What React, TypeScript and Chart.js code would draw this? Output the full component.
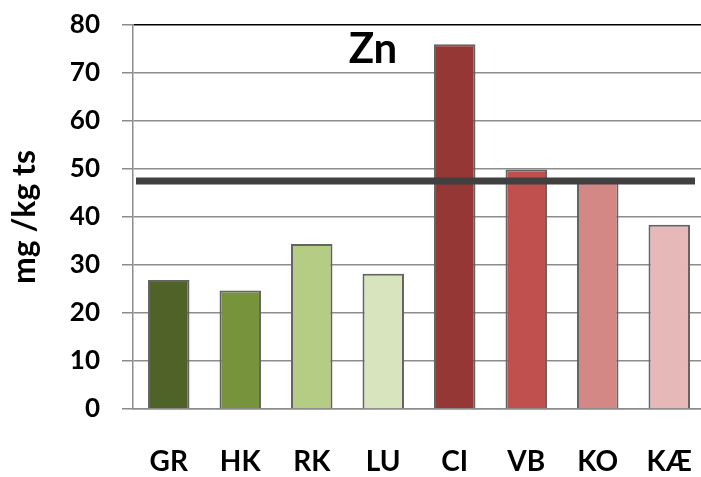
import React, { useEffect, useRef } from "react";
import { Chart, registerables } from "chart.js";

Chart.register(...registerables);

const categories = ["GR", "HK", "RK", "LU", "CI", "VB", "KO", "KÆ"];
const values = [26.9, 24.7, 34.4, 28.2, 76.0, 49.9, 47.6, 38.4];
const barColors = ["#4F6228", "#77933C", "#B4CC84", "#D7E4BD", "#953735", "#C0504D", "#D48886", "#E6B9B8"];
const threshold = 47.5;
const titleText = "Zn";
const yTitle = "mg /kg ts";
const yMin = 0;
const yMax = 80;
const yStep = 10;

const FONT = "Lato, 'Open Sans', sans-serif";

const overlayPlugin = {
  id: "overlay",
  afterDatasetsDraw(chart: any) {
    const { ctx, chartArea, scales } = chart;
    const y = scales.y.getPixelForValue(threshold);
    ctx.save();
    ctx.strokeStyle = "#404040";
    ctx.lineWidth = 7;
    ctx.beginPath();
    ctx.moveTo(chartArea.left + 3, y);
    ctx.lineTo(chartArea.right - 10, y);
    ctx.stroke();
    ctx.restore();
  },
  afterDraw(chart: any) {
    const { ctx } = chart;
    ctx.save();
    ctx.fillStyle = "#000";
    ctx.font = `bold 42px ${FONT}`;
    ctx.textAlign = "center";
    ctx.textBaseline = "middle";
    ctx.fillText(titleText, 373, 49);
    ctx.restore();
  },
};

const zeroPad = (s: any) => {
  s.paddingTop = 0;
  s.paddingBottom = 0;
  s.paddingLeft = 0;
  s.paddingRight = 0;
};

export default function App() {
  const ref = useRef<HTMLCanvasElement>(null);
  useEffect(() => {
    if (!ref.current) return;
    const chart = new Chart(ref.current, {
      type: "bar",
      data: {
        labels: categories,
        datasets: [
          {
            data: values,
            backgroundColor: barColors,
            borderColor: "#646464",
            borderWidth: 2,
            barPercentage: 0.58,
            categoryPercentage: 1,
          },
        ],
      },
      options: {
        responsive: false,
        animation: false,
        layout: { padding: { top: 25, left: 0, right: 7, bottom: 0 } },
        plugins: { legend: { display: false }, tooltip: { enabled: false } },
        scales: {
          x: {
            grid: { display: false, drawTicks: false },
            border: { display: true, color: "#8c8c8c", width: 1.5 },
            ticks: { color: "#000", font: { family: FONT, weight: "bold", size: 28 }, padding: 36 },
            afterFit: (s: any) => { s.height = 68; zeroPad(s); },
          },
          y: {
            min: yMin,
            max: yMax,
            ticks: { stepSize: yStep, color: "#000", font: { family: FONT, weight: "bold", size: 26 }, padding: 22 },
            grid: {
              color: (c: any) => (c.tick && c.tick.value === yMax ? "#000" : "#8c8c8c"),
              tickColor: "#8c8c8c",
              tickLength: 11,
              lineWidth: 1.5,
            },
            border: { display: true, color: "#8c8c8c", width: 1.5 },
            title: { display: true, text: yTitle, color: "#000", font: { family: FONT, weight: "bold", size: 32 }, padding: { top: 5, bottom: 0 } },
            afterFit: (s: any) => { s.width = 133; zeroPad(s); },
          },
        },
      },
      plugins: [overlayPlugin],
    });
    return () => chart.destroy();
  }, []);
  return (
    <div style={{ position: "absolute", left: 0, top: 0, width: 701, height: 477, overflow: "hidden", background: "#fff" }}>
      <canvas ref={ref} width={712} height={477} style={{ display: "block" }} />
    </div>
  );
}
